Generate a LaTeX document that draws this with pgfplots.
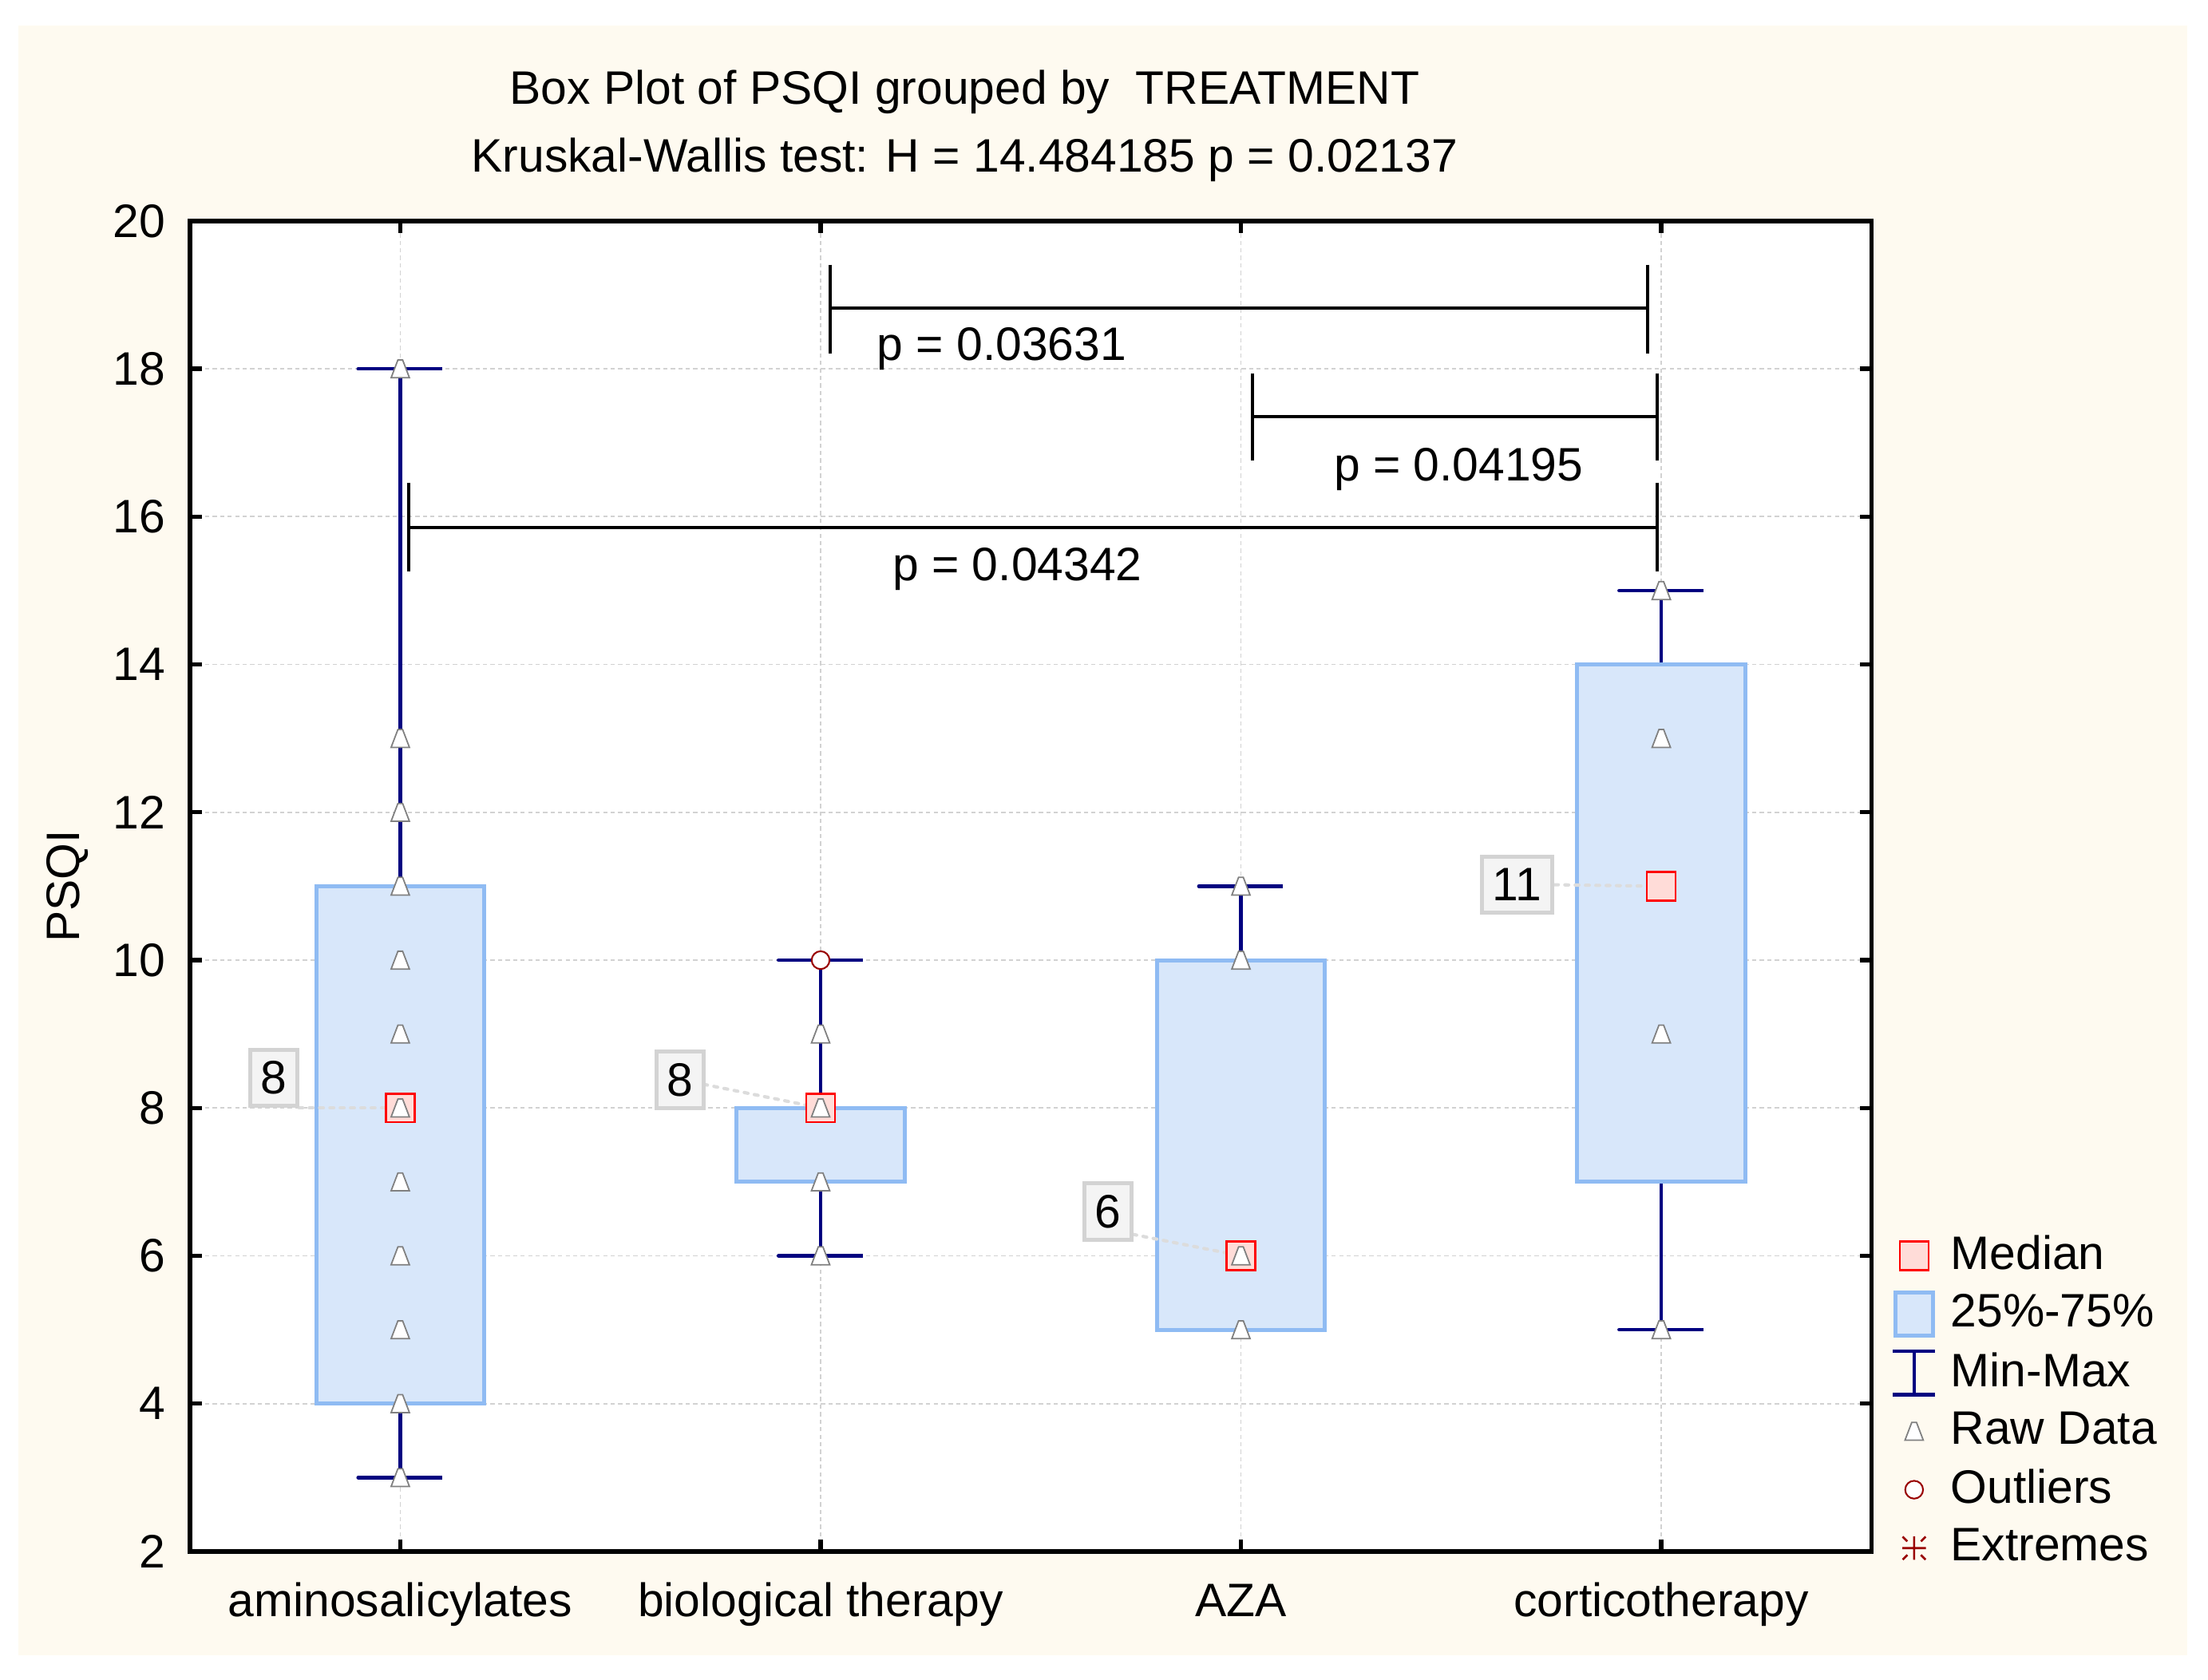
\documentclass[border=0pt]{standalone}
\usepackage{pgfplots}
\pgfplotsset{compat=1.18}
\usepackage{fontspec}
\setmainfont{Liberation Sans}
\definecolor{cream}{RGB}{254,250,240}
\definecolor{boxblue}{RGB}{143,187,243}
\definecolor{boxfill}{RGB}{216,231,250}
\definecolor{navyw}{RGB}{0,0,128}
\definecolor{medpink}{RGB}{255,220,216}
\definecolor{medred}{RGB}{255,0,0}
\definecolor{outred}{RGB}{153,0,0}
\definecolor{rawgray}{RGB}{128,128,128}
\definecolor{gridgray}{RGB}{210,210,210}
\definecolor{conngray}{RGB}{220,220,220}
\definecolor{labfill}{RGB}{244,244,244}
\definecolor{labdraw}{RGB}{211,211,211}

\pgfdeclareplotmark{trap}{%
  \pgfpathmoveto{\pgfqpoint{-1.95pt}{-1.9pt}}%
  \pgfpathlineto{\pgfqpoint{1.95pt}{-1.9pt}}%
  \pgfpathlineto{\pgfqpoint{0.5pt}{1.9pt}}%
  \pgfpathlineto{\pgfqpoint{-0.5pt}{1.9pt}}%
  \pgfpathclose
  \pgfusepathqfillstroke}

\begin{document}
\begin{tikzpicture}[font=\fontsize{10}{12}\selectfont]
\fill[white] (-40.5pt,-27.3pt) rectangle (429.9pt,330.6pt);
\fill[cream] (-36.6pt,-22.2pt) rectangle (425.4pt,325.2pt);
\begin{axis}[
  at={(0pt,0pt)}, anchor=south west,
  scale only axis, width=358.2pt, height=283.5pt,
  xmin=-0.5, xmax=3.5, ymin=2, ymax=20,
  xtick={0,1,2,3},
  xticklabels={aminosalicylates, biological therapy, AZA, corticotherapy},
  ytick={2,4,...,20},
  tick align=inside,
  major tick length=2.5pt,
  axis line style={line width=0.9pt},
  major tick style={black, line width=0.9pt},
  grid=major,
  major grid style={draw=gridgray, line width=0.3pt, dash pattern=on 0.9pt off 0.7pt},
  axis background/.style={fill=white},
  /pgf/number format/assume math mode=true,
  ticklabel style={font=\fontsize{10}{12}\selectfont},
  yticklabel style={inner sep=0pt, anchor=east, xshift=-5.1pt},
  xticklabel style={inner sep=0pt, anchor=base, yshift=-13.8pt},
  clip=false,
  legend cell align=left,
  legend style={draw=none, fill=none, at={(rel axis cs:1.0117,0.2399)}, anchor=north west,
    inner sep=0pt, outer sep=0pt, row sep=2.45pt, nodes={inner sep=0pt},
    /tikz/every odd column/.append style={column sep=2.9pt},
    font=\fontsize{10}{12}\selectfont},
]
% whiskers
\addplot[forget plot, navyw, line width=0.8pt, line join=round] coordinates {(0,11) (0,18) (-0.1,18) (0.1,18)};
\addplot[forget plot, navyw, line width=0.8pt, line join=round] coordinates {(0,4) (0,3) (-0.1,3) (0.1,3)};
\addplot[forget plot, navyw, line width=0.8pt, line join=round] coordinates {(1,8) (1,10) (0.9,10) (1.1,10)};
\addplot[forget plot, navyw, line width=0.8pt, line join=round] coordinates {(1,7) (1,6) (0.9,6) (1.1,6)};
\addplot[forget plot, navyw, line width=0.8pt, line join=round] coordinates {(2,10) (2,11) (1.9,11) (2.1,11)};
\addplot[forget plot, navyw, line width=0.8pt, line join=round] coordinates {(3,14) (3,15) (2.9,15) (3.1,15)};
\addplot[forget plot, navyw, line width=0.8pt, line join=round] coordinates {(3,7) (3,5) (2.9,5) (3.1,5)};
% boxes (25%-75%)
\addplot[forget plot, draw=boxblue, fill=boxfill, line width=0.85pt] coordinates {(-0.2,4) (0.2,4) (0.2,11) (-0.2,11)} -- cycle;
\addplot[forget plot, draw=boxblue, fill=boxfill, line width=0.85pt] coordinates {(0.8,7) (1.2,7) (1.2,8) (0.8,8)} -- cycle;
\addplot[forget plot, draw=boxblue, fill=boxfill, line width=0.85pt] coordinates {(1.8,5) (2.2,5) (2.2,10) (1.8,10)} -- cycle;
\addplot[forget plot, draw=boxblue, fill=boxfill, line width=0.85pt] coordinates {(2.8,7) (3.2,7) (3.2,14) (2.8,14)} -- cycle;
% medians
\addplot[forget plot, only marks, mark=square*, mark size=3.05pt, mark options={draw=medred, fill=medpink, line width=0.4pt}] coordinates {(0,8) (1,8) (2,6) (3,11)};
% raw data
\addplot[forget plot, only marks, mark=trap, mark options={draw=rawgray, fill=white, line width=0.3pt}] coordinates {
(0,18) (0,13) (0,12) (0,11) (0,10) (0,9) (0,8) (0,7) (0,6) (0,5) (0,4) (0,3)
(1,9) (1,8) (1,7) (1,6)
(2,11) (2,10) (2,6) (2,5)
(3,15) (3,13) (3,9) (3,5)};
% outliers
\addplot[forget plot, only marks, mark=*, mark size=1.9pt, mark options={draw=outred, fill=white, line width=0.35pt}] coordinates {(1,10)};

% median label connectors
\draw[conngray, line width=0.7pt, line cap=round, dash pattern=on 0.8pt off 1.4pt] (axis cs:-0.241,8) -- (axis cs:0,8);
\draw[conngray, line width=0.7pt, line cap=round, dash pattern=on 0.8pt off 1.4pt] (axis cs:0.722,8.32) -- (axis cs:1,8);
\draw[conngray, line width=0.7pt, line cap=round, dash pattern=on 0.8pt off 1.4pt] (axis cs:1.743,6.29) -- (axis cs:2,6);
\draw[conngray, line width=0.7pt, line cap=round, dash pattern=on 0.8pt off 1.4pt] (axis cs:2.746,11.02) -- (axis cs:3,11);
% median labels
\node[draw=labdraw, fill=labfill, line width=0.85pt, minimum width=10pt, minimum height=12pt, inner sep=0pt] at (axis cs:-0.301,8.41) {8};
\node[draw=labdraw, fill=labfill, line width=0.85pt, minimum width=10pt, minimum height=12pt, inner sep=0pt] at (axis cs:0.666,8.38) {8};
\node[draw=labdraw, fill=labfill, line width=0.85pt, minimum width=10pt, minimum height=12pt, inner sep=0pt] at (axis cs:1.684,6.6) {6};
\node[draw=labdraw, fill=labfill, line width=0.85pt, minimum width=15pt, minimum height=12pt, inner sep=0pt] at (axis cs:2.657,11.02) {11};

% significance brackets
\draw[black, line width=0.7pt] (axis cs:1.023,18.82) -- (axis cs:2.967,18.82)
  (axis cs:1.023,19.41) -- (axis cs:1.023,18.21)
  (axis cs:2.967,19.41) -- (axis cs:2.967,18.21);
\node[anchor=base] at (axis cs:1.431,18.11) {p = 0.03631};
\draw[black, line width=0.7pt] (axis cs:2.027,17.35) -- (axis cs:2.99,17.35)
  (axis cs:2.027,17.94) -- (axis cs:2.027,16.76)
  (axis cs:2.99,17.94) -- (axis cs:2.99,16.76);
\node[anchor=base] at (axis cs:2.518,16.48) {p = 0.04195};
\draw[black, line width=0.7pt] (axis cs:0.02,15.85) -- (axis cs:2.99,15.85)
  (axis cs:0.02,16.46) -- (axis cs:0.02,15.26)
  (axis cs:2.99,16.46) -- (axis cs:2.99,15.26);
\node[anchor=base] at (axis cs:1.468,15.14) {p = 0.04342};

% titles and y label
\node[anchor=base] at (axis description cs:0.4606,1.0878) {Box Plot of PSQI grouped by\ \ TREATMENT};
\node[anchor=base] at (axis description cs:0.4606,1.0370) {Kruskal-Wallis test: H = 14.484185 p = 0.02137};
\node[rotate=90] at (axis description cs:-0.0729,0.5) {PSQI};

% legend
\addlegendimage{legend image code/.code={\path[draw=none, fill=none] (0pt,-5pt) rectangle (9pt,5pt); \draw[medred, fill=medpink, line width=0.4pt] (1.45pt,-3.05pt) rectangle (7.55pt,3.05pt);}}
\addlegendentry{Median}
\addlegendimage{legend image code/.code={\path[draw=none, fill=none] (0pt,-5pt) rectangle (9pt,5pt); \draw[boxblue, fill=boxfill, line width=0.85pt] (0.45pt,-4.6pt) rectangle (8.55pt,4.6pt);}}
\addlegendentry{25\%-75\%}
\addlegendimage{legend image code/.code={\path[draw=none, fill=none] (0pt,-5pt) rectangle (9pt,5pt); \draw[navyw, line width=0.8pt] (0pt,4.6pt) -- (9pt,4.6pt) (4.5pt,4.6pt) -- (4.5pt,-4.6pt) (0pt,-4.6pt) -- (9pt,-4.6pt);}}
\addlegendentry{Min-Max}
\addlegendimage{legend image code/.code={\path[draw=none, fill=none] (0pt,-5pt) rectangle (9pt,5pt); \draw[rawgray, fill=white, line width=0.3pt] (2.55pt,-1.9pt) -- (6.45pt,-1.9pt) -- (5pt,1.9pt) -- (4pt,1.9pt) -- cycle;}}
\addlegendentry{Raw Data}
\addlegendimage{legend image code/.code={\path[draw=none, fill=none] (0pt,-5pt) rectangle (9pt,5pt); \draw[outred, fill=white, line width=0.35pt] (4.5pt,0pt) circle (1.9pt);}}
\addlegendentry{Outliers}
\addlegendimage{legend image code/.code={\path[draw=none, fill=none] (0pt,-5pt) rectangle (9pt,5pt); \draw[outred, line width=0.45pt] (4.5pt,-2.5pt) -- (4.5pt,2.5pt) (2.0pt,0pt) -- (7.0pt,0pt) (2.05pt,2.45pt) -- (3.05pt,1.45pt) (6.95pt,2.45pt) -- (5.95pt,1.45pt) (2.05pt,-2.45pt) -- (3.05pt,-1.45pt) (6.95pt,-2.45pt) -- (5.95pt,-1.45pt);}}
\addlegendentry{Extremes}
\end{axis}
\pgfresetboundingbox
\path[use as bounding box] (-40.5pt,-27.3pt) rectangle (429.9pt,330.6pt);
\end{tikzpicture}
\end{document}
